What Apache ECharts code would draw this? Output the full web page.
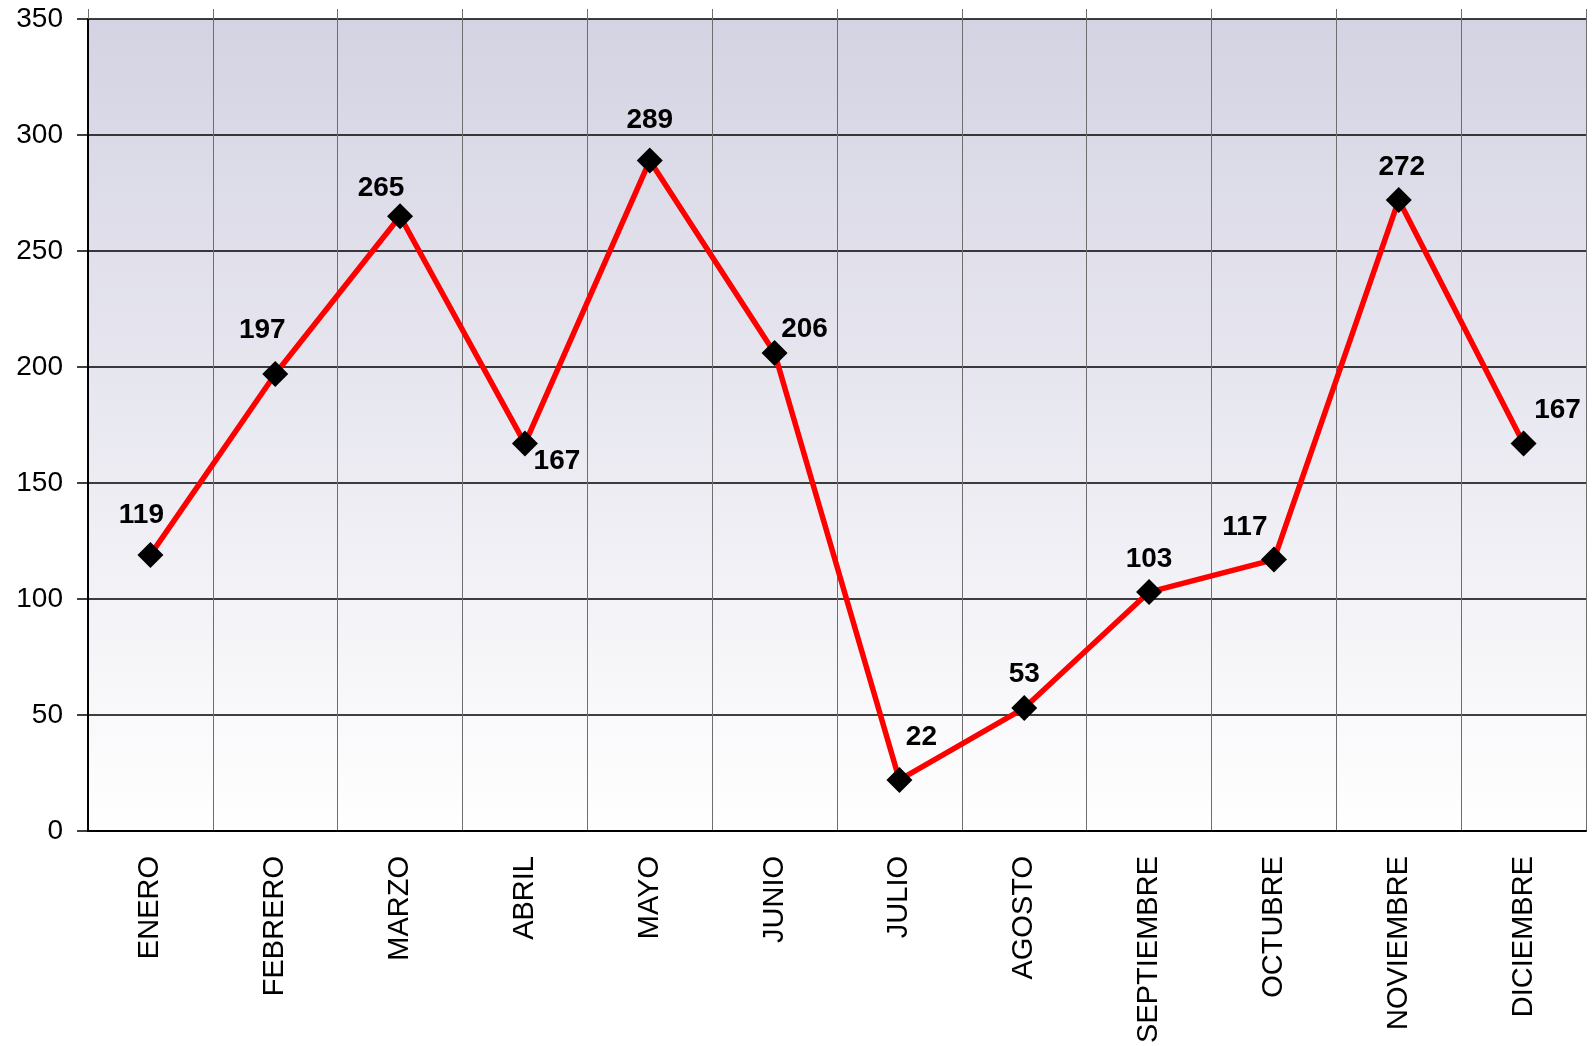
<!DOCTYPE html>
<html>
<head>
<meta charset="utf-8">
<script src="https://cdn.jsdelivr.net/npm/echarts@6/dist/echarts.min.js"></script>
<style>
  html, body { margin: 0; padding: 0; background: #fff; }
  #chart { width: 1592px; height: 1046px; }
</style>
</head>
<body>
<div id="chart"></div>
<script>
  const months = ['ENERO', 'FEBRERO', 'MARZO', 'ABRIL', 'MAYO', 'JUNIO', 'JULIO',
    'AGOSTO', 'SEPTIEMBRE', 'OCTUBRE', 'NOVIEMBRE', 'DICIEMBRE']
  const values = [119, 197, 265, 167, 289, 206, 22, 53, 103, 117, 272, 167]
  const yTicks = [0, 50, 100, 150, 200, 250, 300, 350]

  // desplazamiento de cada etiqueta respecto al marcador
  const labelOffsets = [[-9, -40], [-13, -44], [-19, -28], [32, 18], [0, -40], [30, -24],
    [22, -43], [0, -34], [0, -33], [-29, -32], [3, -33], [34, -33]]

  const chart = echarts.init(document.getElementById('chart'))
  const option = {
    animation: false,
    textStyle: { fontFamily: 'Liberation Sans, Arial, sans-serif' },
    grid: {
      left: 88,
      right: 6,
      top: 19,
      bottom: 215,
      show: true,
      borderWidth: 0,
      backgroundColor: new echarts.graphic.LinearGradient(0, 0, 0, 1, [
        { offset: 0, color: '#d4d3e3' },
        { offset: 1, color: '#ffffff' }
      ])
    },
    xAxis: [
      {
        type: 'category',
        data: months,
        boundaryGap: true,
        axisLine: { lineStyle: { color: '#000', width: 2 } },
        axisTick: { show: false },
        axisLabel: {
          rotate: 90,
          margin: 25,
          fontSize: 29,
          color: '#000',
          interval: 0
        },
        splitLine: {
          show: true,
          interval: 0,
          lineStyle: { color: '#6e6e6e', width: 1 }
        }
      },
      {
        type: 'category',
        position: 'top',
        data: months,
        boundaryGap: true,
        axisLine: { show: false },
        axisTick: {
          show: true,
          interval: 0,
          length: 10,
          lineStyle: { color: '#6e6e6e', width: 1 }
        },
        axisLabel: { show: false },
        splitLine: { show: false }
      }
    ],
    yAxis: {
      type: 'value',
      min: yTicks[0],
      max: yTicks[yTicks.length - 1],
      interval: 50,
      axisLine: { show: true, lineStyle: { color: '#000', width: 2 } },
      axisTick: { show: true, length: 11, lineStyle: { color: '#000', width: 1.5 } },
      axisLabel: { margin: 25, fontSize: 28, color: '#000' },
      splitLine: { lineStyle: { color: '#000', width: 1.5 } }
    },
    series: [
      {
        type: 'line',
        data: values.map((v, i) => ({
          value: v,
          label: { offset: labelOffsets[i] }
        })),
        symbol: 'diamond',
        symbolSize: 26,
        itemStyle: { color: '#000' },
        lineStyle: { color: '#ff0000', width: 5.5 },
        z: 5,
        label: {
          show: true,
          position: 'inside',
          fontSize: 28,
          fontWeight: 'bold',
          color: '#000'
        }
      }
    ]
  }
  chart.setOption(option, true)

  window.addEventListener('resize', () => {
    chart.resize()
  })
</script>
</body>
</html>
